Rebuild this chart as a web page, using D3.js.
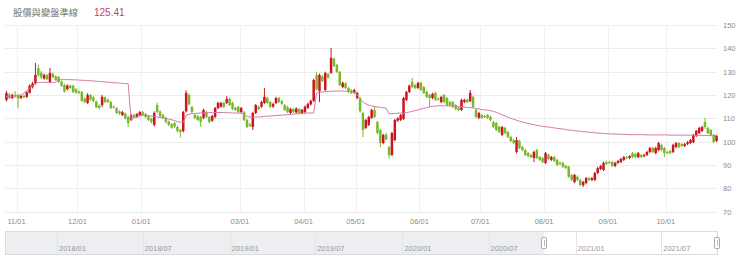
<!DOCTYPE html>
<html>
<head>
<meta charset="utf-8">
<script src="https://cdn.jsdelivr.net/npm/d3@7"></script>
<style>
  html, body { margin: 0; padding: 0; background: #fff; }
  svg { display: block; font-family: "Liberation Sans", Arial, sans-serif; }
</style>
</head>
<body>
<svg id="chart" width="740" height="260"></svg>
<script>
// trading days per month shown in the main chart
const months = [
  ['2020-10', 4], ['2020-11', 21], ['2020-12', 22], ['2021-01', 20], ['2021-02', 14],
  ['2021-03', 22], ['2021-04', 18], ['2021-05', 22], ['2021-06', 21], ['2021-07', 22],
  ['2021-08', 22], ['2021-09', 20], ['2021-10', 18]
];
const tickMonths = ['2020-11', '2020-12', '2021-01', '2021-03', '2021-04', '2021-05',
  '2021-06', '2021-07', '2021-08', '2021-09', '2021-10'];
const yTicks = [70, 80, 90, 100, 110, 120, 130, 140, 150];

// [open, close, high, low]
const ohlc = [
  [117.9,120.9,121.8,117.2],[120.2,118.7,120.9,118.2],[118.7,120.0,120.6,118.3],[120.0,119.4,121.6,118.9],[120.0,118.5,120.5,114.4],
  [118.7,119.6,120.0,118.3],[119.6,119.0,120.2,118.6],[119.2,121.2,121.6,118.8],[121.0,124.0,124.6,120.6],[123.4,125.0,125.6,122.8],
  [125.0,128.6,133.7,124.5],[131.5,128.5,132.9,127.8],[129.5,127.5,130.4,127.0],[127.0,128.6,129.2,126.6],[128.5,126.8,129.0,126.3],
  [125.6,129.5,131.6,125.0],[129.0,127.7,129.6,127.2],[128.0,126.5,128.4,126.0],[127.7,125.6,128.2,125.2],[125.8,124.0,126.3,123.5],
  [124.3,121.5,124.8,121.0],[122.5,124.0,124.6,122.0],[124.0,123.0,124.5,122.6],[124.0,121.3,124.4,120.8],[122.5,121.0,123.0,120.6],
  [121.5,120.9,122.0,120.3],[121.3,117.5,121.8,117.0],[118.5,117.0,119.0,116.4],[116.6,120.0,120.8,116.2],[120.0,118.0,120.4,117.5],
  [119.0,117.4,119.5,116.9],[117.2,114.8,117.6,114.3],[115.5,114.4,116.0,113.8],[115.7,119.2,120.0,114.8],[119.0,117.0,119.4,116.5],
  [118.0,117.0,118.5,116.6],[117.0,114.4,117.4,114.0],[115.0,114.8,115.6,114.2],[114.4,112.3,114.9,111.8],[113.0,112.0,113.5,111.5],
  [111.4,112.7,113.2,111.0],[112.0,110.0,112.5,109.5],[110.6,108.0,111.0,106.3],[109.3,111.4,111.9,108.8],[111.4,110.6,112.0,110.2],
  [110.6,111.8,112.3,110.2],[111.4,112.7,113.2,111.0],[112.7,111.4,113.2,111.0],[111.8,110.6,112.2,110.1],[110.8,109.3,111.3,108.8],
  [109.8,108.4,110.3,107.8],[107.2,112.3,113.0,106.5],[115.7,112.7,116.8,112.2],[113.0,111.0,113.5,110.5],[111.5,110.2,112.0,109.7],
  [110.2,108.4,110.7,107.9],[108.6,107.2,109.1,106.7],[107.5,106.0,108.0,105.5],[108.0,106.5,108.5,106.0],[106.3,104.6,106.8,104.0],
  [105.0,104.2,105.5,101.8],[104.5,112.7,113.2,104.0],[113.0,120.9,122.0,112.5],[120.0,116.0,120.6,115.5],[114.9,112.7,115.4,112.2],
  [111.4,110.2,111.9,109.7],[111.0,109.3,111.5,108.8],[110.6,108.4,111.0,106.3],[110.2,113.6,114.1,109.7],[112.7,110.6,113.2,110.1],
  [110.6,108.4,111.1,107.9],[109.0,111.0,111.5,108.5],[110.6,114.4,114.9,110.1],[114.4,116.6,117.1,113.9],[115.0,116.6,117.1,114.5],
  [116.6,114.9,117.1,114.4],[116.6,118.3,119.5,116.1],[118.3,115.7,118.8,115.2],[116.6,114.0,117.1,113.5],[114.5,113.6,115.0,113.1],
  [114.9,112.7,115.4,112.2],[112.7,114.4,114.9,112.2],[112.7,109.3,113.2,108.8],[109.3,106.3,109.8,105.8],[107.5,106.8,108.0,106.3],
  [106.3,112.3,112.8,105.0],[112.3,115.7,116.2,111.8],[115.0,114.0,115.5,113.5],[115.0,117.0,117.5,114.5],[116.6,119.2,123.0,116.1],
  [118.7,116.6,119.2,116.1],[117.0,114.9,117.5,114.4],[115.0,116.2,116.7,114.5],[116.6,118.7,119.2,116.1],[118.7,117.0,119.2,116.5],
  [117.4,116.2,117.9,115.7],[115.7,113.6,116.2,113.1],[114.9,112.7,115.4,112.2],[112.3,114.0,114.5,111.8],[114.0,112.7,114.5,112.2],
  [112.5,114.2,114.7,112.0],[114.0,112.3,114.5,111.8],[112.3,113.6,114.1,111.8],[112.7,115.0,115.5,112.2],[114.5,116.2,116.7,114.0],
  [116.0,117.5,118.0,115.5],[117.5,126.4,127.0,117.0],[128.5,122.5,130.0,122.0],[121.7,128.6,129.2,117.0],[128.0,126.0,128.5,125.5],
  [122.2,129.5,130.0,121.7],[129.0,127.5,129.5,127.0],[129.5,135.9,140.2,129.0],[135.5,132.5,136.0,132.0],[132.9,129.9,133.4,129.4],
  [129.9,124.3,130.4,123.8],[123.4,125.2,125.7,122.9],[125.0,123.0,125.5,122.5],[123.0,121.3,123.5,120.8],[122.0,120.9,122.5,120.4],
  [121.0,122.2,122.7,120.5],[118.7,120.9,121.4,118.2],[118.7,113.0,119.2,112.5],[112.3,105.0,112.8,102.0],[105.9,109.3,109.8,105.4],
  [107.2,110.6,111.1,106.7],[110.2,113.6,114.1,109.7],[113.6,110.6,115.0,110.1],[108.4,103.7,108.9,103.2],[105.0,99.4,105.5,97.7],
  [99.4,102.9,103.4,98.9],[103.0,101.0,103.7,100.5],[97.7,94.3,98.2,92.8],[94.3,103.7,104.2,93.8],[100.7,109.3,109.8,100.2],
  [109.0,110.0,110.5,108.5],[109.3,111.4,111.9,108.8],[109.8,118.7,119.2,109.3],[117.9,121.3,121.8,117.4],[121.3,124.0,124.5,120.8],
  [125.6,123.4,127.3,122.9],[124.3,123.0,124.8,122.5],[123.0,125.2,125.7,122.5],[125.2,122.2,125.7,121.7],[123.4,120.9,123.9,120.4],
  [121.3,119.2,121.8,118.7],[120.0,118.7,120.5,114.9],[118.7,120.5,121.0,118.2],[120.9,117.9,121.4,117.4],[118.5,118.0,119.0,117.5],
  [117.0,119.2,119.7,116.5],[120.0,117.0,120.5,116.5],[118.7,115.7,119.2,115.2],[117.0,115.7,117.5,115.2],[117.0,114.9,117.5,114.4],
  [115.7,114.0,116.2,113.5],[114.5,113.6,115.0,113.1],[113.6,117.9,118.4,113.1],[117.0,117.9,118.4,116.5],[118.0,117.0,118.5,116.5],
  [117.4,120.9,122.2,116.9],[119.2,114.9,119.7,114.4],[113.6,110.6,114.1,110.1],[110.2,112.3,112.8,109.7],[111.4,110.2,111.9,109.7],
  [111.0,110.6,111.5,110.1],[111.4,110.2,111.9,109.7],[110.6,109.3,111.1,108.8],[108.4,106.3,108.9,105.8],[108.0,105.0,108.5,104.5],
  [106.3,104.2,106.8,103.7],[102.9,106.3,106.8,102.4],[105.9,103.7,106.4,103.2],[104.2,102.0,104.7,101.5],[102.0,100.3,102.5,99.8],
  [100.7,99.4,101.2,98.9],[95.6,100.7,102.0,95.0],[100.3,97.3,100.8,96.8],[97.7,96.4,98.2,95.9],[96.4,94.3,96.9,93.8],
  [95.1,93.8,95.6,93.3],[94.3,93.4,94.8,92.9],[93.0,95.6,96.1,91.3],[96.4,93.0,96.9,92.5],[93.4,92.2,93.9,91.7],
  [93.0,91.3,93.5,90.8],[90.9,95.1,95.6,90.4],[94.3,92.6,94.8,92.1],[92.2,93.4,93.9,91.7],[93.4,91.7,93.9,91.2],
  [92.2,90.0,92.7,89.5],[91.0,90.5,91.5,90.0],[90.9,89.2,91.4,88.7],[89.6,88.7,90.1,88.2],[89.2,85.0,89.7,84.5],
  [85.7,83.6,86.2,83.1],[82.7,85.7,86.2,82.2],[85.0,83.6,85.5,83.1],[83.6,81.4,84.1,80.9],[81.4,82.7,83.2,80.6],
  [82.3,84.4,84.9,81.8],[84.4,83.6,84.9,83.1],[83.6,84.4,84.9,83.1],[83.6,86.6,87.1,83.1],[86.6,88.7,89.2,86.1],
  [88.3,89.6,90.1,87.8],[87.9,90.9,91.4,87.4],[91.3,90.5,91.8,90.0],[91.3,90.9,91.8,90.4],[91.3,89.6,91.8,89.1],
  [89.6,90.9,91.4,89.1],[90.9,91.7,92.2,90.4],[91.3,92.6,93.1,90.8],[92.2,93.4,93.9,91.7],[93.4,93.0,93.9,92.5],
  [93.0,93.8,94.3,92.5],[95.1,93.4,95.6,92.9],[94.7,93.4,95.2,92.9],[93.4,95.1,95.6,92.9],[94.3,93.4,94.8,92.9],
  [93.8,94.3,94.8,93.3],[94.3,95.6,96.1,93.8],[95.6,97.3,97.8,95.1],[97.3,95.6,97.8,95.1],[95.1,97.3,97.8,94.6],
  [96.4,99.4,99.9,95.9],[98.6,96.4,99.1,95.9],[97.3,95.1,97.8,93.4],[95.6,95.1,96.1,94.6],[96.0,95.1,96.5,94.6],
  [95.6,98.6,99.1,95.1],[97.7,99.4,99.9,97.2],[99.4,97.7,99.9,97.2],[99.0,98.2,99.5,97.7],[98.2,99.0,99.5,97.7],
  [99.0,99.8,100.3,98.5],[99.4,100.7,101.2,98.9],[99.8,102.9,103.4,99.3],[102.5,104.6,105.1,102.0],[103.7,105.9,106.4,103.2],
  [104.6,106.3,106.8,104.1],[108.4,106.3,110.2,105.5],[105.9,103.7,106.4,103.2],[105.0,102.9,105.5,102.4],[102.9,99.9,103.4,99.4],
  [100.3,102.5,103.0,99.8]
];

// 變盤準線
const refLine = [
  119.3,119.3,119.5,119.6,119.8,
  120.0,120.8,121.8,122.8,123.8,125.0,
  125.41,125.41,125.41,125.41,125.41,125.41,125.41,
  126.8,126.7,126.7,126.6,126.6,126.5,126.5,126.4,126.3,126.3,126.2,126.1,126.0,125.9,125.8,
  125.7,125.6,125.5,125.4,125.3,125.2,125.1,125.0,124.9,124.8,
  109.3,110.2,110.6,111.0,111.4,111.4,111.2,111.0,110.8,110.6,110.4,110.2,110.0,109.7,109.4,109.0,108.6,108.4,
  108.2,
  111.4,111.8,112.0,
  112.0,112.2,112.3,112.3,112.4,112.5,112.5,112.5,112.5,112.5,112.5,112.4,112.4,112.3,112.3,112.3,112.2,
  111.5,110.8,110.6,110.6,110.6,110.6,110.7,110.8,
  111.0,111.0,111.1,111.2,111.3,111.4,111.5,111.6,111.7,111.8,111.9,112.0,112.1,112.2,112.3,112.3,112.3,
  120.9,121.2,121.3,121.4,121.5,121.6,121.7,121.7,121.7,121.7,121.6,121.6,121.5,
  121.3,120.0,118.3,117.0,116.2,115.7,115.3,115.0,114.9,114.7,114.5,114.4,
  112.0,112.0,112.1,112.2,112.3,112.3,
  112.5,112.7,113.0,113.3,113.6,114.0,114.3,114.6,114.9,115.1,115.3,
  115.3,115.4,115.4,115.3,115.3,115.2,115.1,115.0,114.9,114.8,114.7,114.6,114.5,
  114.2,114.0,113.8,113.6,113.5,113.3,113.0,112.6,112.1,111.6,111.0,110.5,110.0,109.6,109.2,
  108.8,108.4,108.1,107.8,107.5,107.3,107.0,106.8,106.6,106.4,106.3,106.1,105.9,105.7,105.6,
  105.4,105.2,105.0,104.9,104.7,104.6,104.5,104.3,104.2,104.1,103.9,103.8,103.7,103.6,103.5,
  103.4,103.4,103.3,103.3,103.2,103.2,103.1,103.1,103.0,
  103.0,103.0,103.0,103.0,103.0,102.9,102.9,102.9,102.9,102.9,102.9,102.9,102.9,
  102.8,102.8,102.8,102.8,102.8,102.8,102.8,102.8,102.7,102.7,102.7,102.7,102.7,
  102.6,102.6,102.6,102.6
];

// navigator (full history)
const navDomain = ['2017-09-13', '2021-10-29'];
const navWindow = ['2020-10-26', '2021-10-26'];
const navLabels = ['2018/01', '2018/07', '2019/01', '2019/07', '2020/01', '2020/07', '2021/01', '2021/07'];

const titleText = '股價與變盤準線';
const titleValue = '125.41';

const upColor = '#c9161f';
const downColor = '#7ab82a';
const lineColor = '#d67ba2';

const svg = d3.select('#chart');

// month of each trading day
const dayMonth = [];
months.forEach(([m, n]) => { for (let k = 0; k < n; k++) dayMonth.push(m); });
const monthStart = {};
dayMonth.forEach((m, i) => { if (!(m in monthStart)) monthStart[m] = i; });

const x = d3.scaleBand().domain(d3.range(ohlc.length)).range([5, 718]);
const y = d3.scaleLinear().domain([70, 150]).range([211.7, 25]);
const bw = x.bandwidth();
const cx = i => x(i) + bw / 2;

// title
svg.append('text')
  .attr('x', 13).attr('y', 13).attr('dominant-baseline', 'middle')
  .style('font-family', '"Noto Sans CJK TC", sans-serif')
  .style('font-size', '9.3px').attr('fill', '#777')
  .text(titleText);
svg.append('text')
  .attr('x', 94).attr('y', 13).attr('dominant-baseline', 'middle')
  .style('font-size', '10px').attr('fill', '#c4407b')
  .text(titleValue);

// grid
svg.append('g').selectAll('line').data(yTicks).join('line')
  .attr('x1', 5).attr('x2', 716)
  .attr('y1', d => Math.round(y(d)) + 0.5).attr('y2', d => Math.round(y(d)) + 0.5)
  .attr('stroke', '#ececec');

svg.append('g').selectAll('line').data(tickMonths).join('line')
  .attr('x1', m => Math.round(x(monthStart[m])) + 0.5)
  .attr('x2', m => Math.round(x(monthStart[m])) + 0.5)
  .attr('y1', y(150)).attr('y2', y(70))
  .attr('stroke', '#f1f1f1');

// y axis on the right
const yAxis = svg.append('g')
  .attr('transform', 'translate(718,0)')
  .call(d3.axisRight(y).tickValues(yTicks).tickSize(0).tickPadding(5));
yAxis.select('.domain').remove();
yAxis.selectAll('text').attr('fill', '#8c8c8c').style('font-size', '7.5px');

// x labels
svg.append('g').selectAll('text').data(tickMonths).join('text')
  .attr('x', m => x(monthStart[m]))
  .attr('y', 222).attr('dominant-baseline', 'middle')
  .attr('text-anchor', 'middle')
  .style('font-size', '7.5px').attr('fill', '#8c8c8c')
  .text(m => m.slice(5) + '/01');

// candles
const bodyW = bw * 0.86;
const candles = svg.append('g').selectAll('g').data(ohlc).join('g');
candles.append('line')
  .attr('x1', (d, i) => cx(i)).attr('x2', (d, i) => cx(i))
  .attr('y1', d => y(d[2])).attr('y2', d => y(d[3]))
  .attr('stroke', d => d[1] >= d[0] ? upColor : downColor)
  .attr('stroke-width', 1);
candles.append('rect')
  .attr('x', (d, i) => cx(i) - bodyW / 2)
  .attr('width', bodyW)
  .attr('y', d => y(Math.max(d[0], d[1])))
  .attr('height', d => Math.max(1, Math.abs(y(d[0]) - y(d[1]))))
  .attr('fill', d => d[1] >= d[0] ? upColor : downColor);

// reference line
svg.append('path')
  .datum(refLine)
  .attr('fill', 'none')
  .attr('stroke', lineColor)
  .attr('stroke-width', 1)
  .attr('d', d3.line().x((d, i) => cx(i)).y(d => y(d)));

// navigator
const parse = d3.timeParse('%Y-%m-%d');
const navX = d3.scaleTime().domain(navDomain.map(parse)).range([5, 718]);
const navTop = 231, navH = 24;
const w0 = navX(parse(navWindow[0])), w1 = navX(parse(navWindow[1]));

const nav = svg.append('g');
nav.append('rect').attr('x', 5).attr('y', navTop).attr('width', 713).attr('height', navH)
  .attr('fill', '#fff');
nav.append('rect').attr('x', 5).attr('y', navTop).attr('width', w0 - 5).attr('height', navH)
  .attr('fill', '#eceef1');
nav.append('rect').attr('x', w1).attr('y', navTop).attr('width', 718 - w1).attr('height', navH)
  .attr('fill', '#eceef1');

const navParse = d3.timeParse('%Y/%m');
nav.selectAll('line.div').data(navLabels).join('line')
  .attr('class', 'div')
  .attr('x1', d => Math.round(navX(navParse(d))) + 0.5)
  .attr('x2', d => Math.round(navX(navParse(d))) + 0.5)
  .attr('y1', navTop).attr('y2', navTop + navH)
  .attr('stroke', '#e2e4e8');
nav.selectAll('text').data(navLabels).join('text')
  .attr('x', d => navX(navParse(d)) + 2)
  .attr('y', 249).attr('dominant-baseline', 'middle')
  .style('font-size', '7.5px').attr('fill', '#999')
  .text(d => d);

nav.append('rect').attr('x', 5.5).attr('y', navTop + 0.5).attr('width', 712).attr('height', navH - 1)
  .attr('fill', 'none').attr('stroke', '#dcdcdc');

[w0, w1].forEach(wx => {
  nav.append('rect')
    .attr('x', Math.round(wx) - 2.5).attr('y', 237.5).attr('width', 5).attr('height', 11)
    .attr('rx', 1).attr('fill', '#fff').attr('stroke', '#a8a8a8');
  nav.append('line')
    .attr('x1', Math.round(wx) + 0.5).attr('x2', Math.round(wx) + 0.5)
    .attr('y1', 240).attr('y2', 246).attr('stroke', '#bbb');
});
</script>
</body>
</html>
